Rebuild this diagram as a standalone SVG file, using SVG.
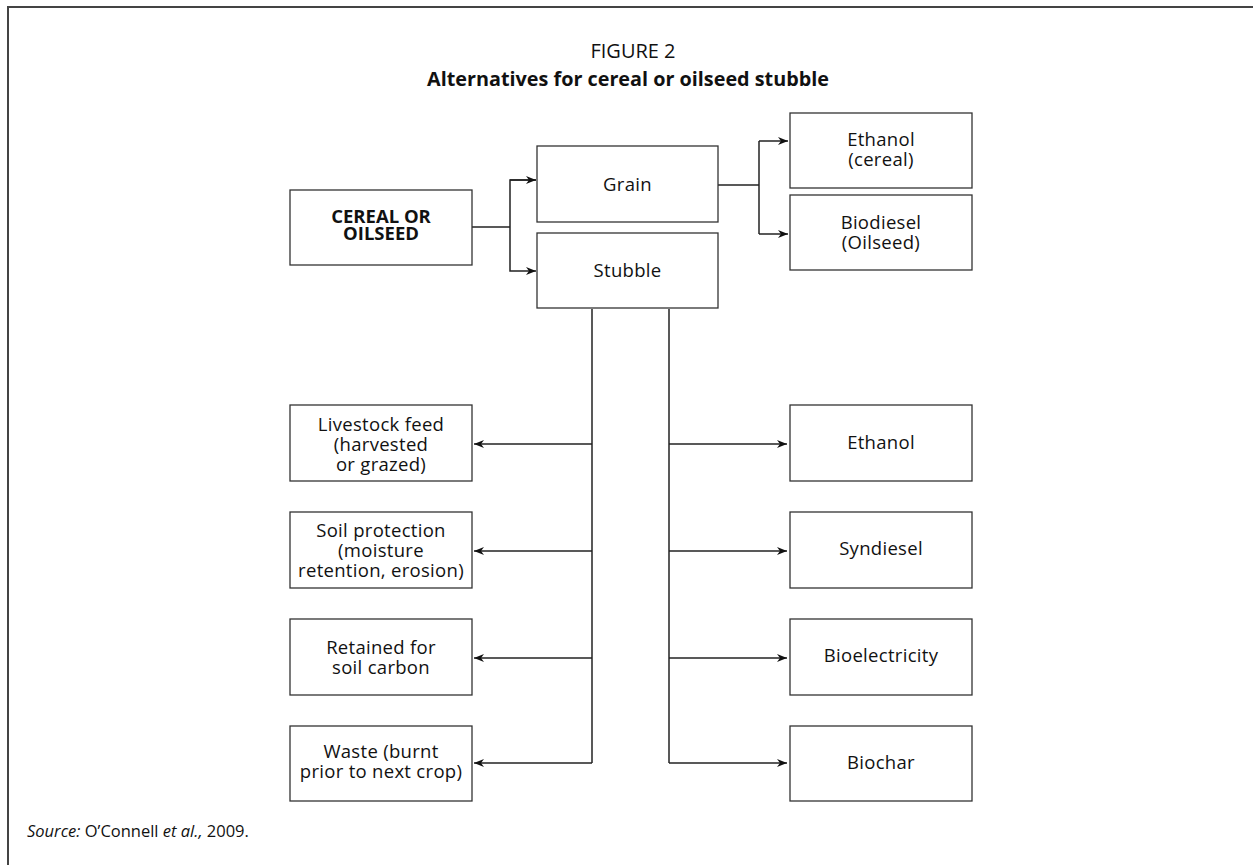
<svg xmlns="http://www.w3.org/2000/svg" width="1253" height="865" viewBox="0 0 1253 865">
<style>
.box{fill:#fff;stroke:#333;stroke-width:1.3}
.t{font-family:"Open Sans","Noto Sans","DejaVu Sans",sans-serif;font-size:18.5px;letter-spacing:0.3px;fill:#111;text-anchor:middle}
.b{font-weight:bold;letter-spacing:0}
.c{fill:none;stroke:#222;stroke-width:1.5}
</style>
<defs>
<marker id="ah" viewBox="0 0 10 8" refX="10" refY="4" markerWidth="10" markerHeight="8" markerUnits="userSpaceOnUse" orient="auto">
<path d="M0,0 L10,4 L0,8 L3,4 z" fill="#111"/>
</marker>
</defs>
<rect width="1253" height="865" fill="#fff"/>
<path d="M8,865 V7 H1253" fill="none" stroke="#444" stroke-width="2"/>
<text x="633" y="58" class="t" style="font-size:20px;letter-spacing:0">FIGURE 2</text>
<text x="628" y="86" class="t b" style="font-size:19.8px">Alternatives for cereal or oilseed stubble</text>

<g id="connectors">
<path class="c" d="M472,227 H510"/>
<path class="c" d="M536,180 H510 V271 H536" marker-end="url(#ah)"/>
<path class="c" d="M510,180 H536" marker-end="url(#ah)"/>
<path class="c" d="M718,185 H759"/>
<path class="c" d="M759,141 V234"/>
<path class="c" d="M759,141 H788" marker-end="url(#ah)"/>
<path class="c" d="M759,234 H788" marker-end="url(#ah)"/>
<path class="c" d="M592,309 V763"/>
<path class="c" d="M669,309 V763"/>
<path class="c" d="M592,444 H474" marker-end="url(#ah)"/>
<path class="c" d="M592,551 H474" marker-end="url(#ah)"/>
<path class="c" d="M592,658 H474" marker-end="url(#ah)"/>
<path class="c" d="M592,763 H474" marker-end="url(#ah)"/>
<path class="c" d="M669,444 H787" marker-end="url(#ah)"/>
<path class="c" d="M669,551 H787" marker-end="url(#ah)"/>
<path class="c" d="M669,658 H787" marker-end="url(#ah)"/>
<path class="c" d="M669,763 H787" marker-end="url(#ah)"/>
</g>

<g id="cereal"><rect class="box" x="290" y="190" width="182" height="75"/>
<text class="t b" x="381" y="222.5">CEREAL OR</text><text class="t b" x="381" y="239.5">OILSEED</text></g>
<g id="grain"><rect class="box" x="537" y="146" width="181" height="76"/>
<text class="t" x="627.5" y="190.5">Grain</text></g>
<g id="stubble"><rect class="box" x="537" y="233" width="181" height="75"/>
<text class="t" x="627.5" y="277">Stubble</text></g>
<g id="ethanol-cereal"><rect class="box" x="790" y="113" width="182" height="75"/>
<text class="t" x="881" y="146">Ethanol</text><text class="t" x="881" y="166">(cereal)</text></g>
<g id="biodiesel"><rect class="box" x="790" y="195" width="182" height="75"/>
<text class="t" x="881" y="229">Biodiesel</text><text class="t" x="881" y="248.5">(Oilseed)</text></g>

<g id="livestock"><rect class="box" x="290" y="405" width="182" height="76"/>
<text class="t" x="381" y="431">Livestock feed</text><text class="t" x="381" y="451">(harvested</text><text class="t" x="381" y="471">or grazed)</text></g>
<g id="soil-protection"><rect class="box" x="290" y="512" width="182" height="76"/>
<text class="t" x="381" y="537">Soil protection</text><text class="t" x="381" y="557">(moisture</text><text class="t" x="381" y="577">retention, erosion)</text></g>
<g id="soil-carbon"><rect class="box" x="290" y="619" width="182" height="76"/>
<text class="t" x="381" y="654">Retained for</text><text class="t" x="381" y="674">soil carbon</text></g>
<g id="waste"><rect class="box" x="290" y="726" width="182" height="75"/>
<text class="t" x="381" y="758">Waste (burnt</text><text class="t" x="381" y="778">prior to next crop)</text></g>

<g id="ethanol"><rect class="box" x="790" y="405" width="182" height="76"/>
<text class="t" x="881" y="449">Ethanol</text></g>
<g id="syndiesel"><rect class="box" x="790" y="512" width="182" height="76"/>
<text class="t" x="881" y="555">Syndiesel</text></g>
<g id="bioelectricity"><rect class="box" x="790" y="619" width="182" height="76"/>
<text class="t" x="881" y="662">Bioelectricity</text></g>
<g id="biochar"><rect class="box" x="790" y="726" width="182" height="75"/>
<text class="t" x="881" y="769">Biochar</text></g>

<text x="27" y="837" style="font-family:'Open Sans','Noto Sans',sans-serif;font-size:16.5px;fill:#111"><tspan font-style="italic">Source:</tspan> O’Connell <tspan font-style="italic">et al.,</tspan> 2009.</text>
</svg>
